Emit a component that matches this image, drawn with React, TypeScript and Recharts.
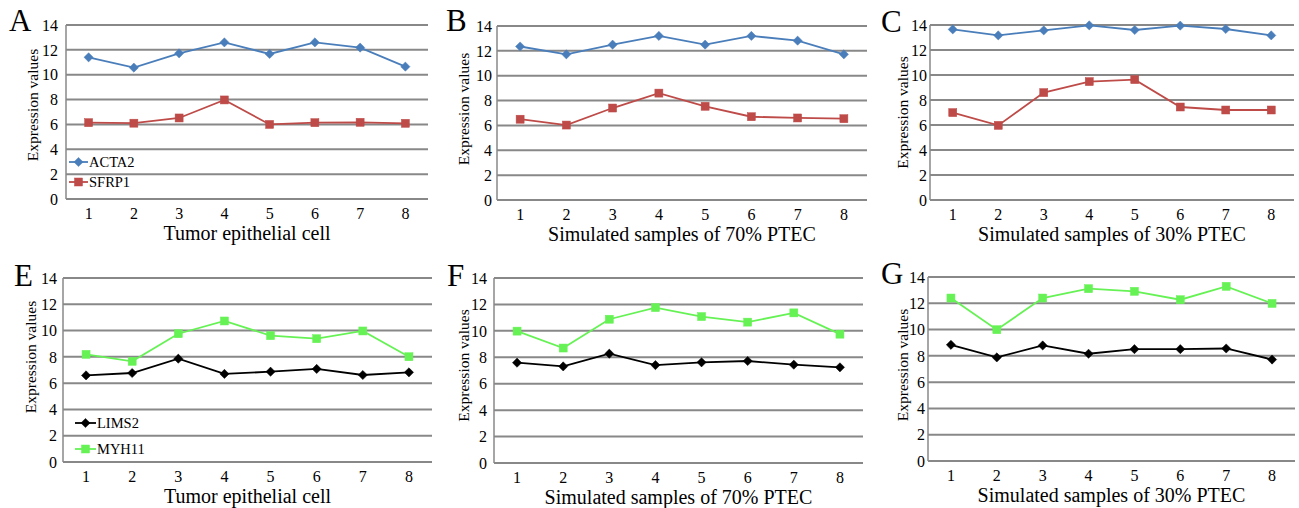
import React from 'react';
import { LineChart, Line, XAxis, YAxis, CartesianGrid, Legend } from 'recharts';

const samples = ['1', '2', '3', '4', '5', '6', '7', '8'];
const yTicks = [0, 2, 4, 6, 8, 10, 12, 14];

const acta2Tumor = [11.4, 10.57, 11.72, 12.6, 11.67, 12.6, 12.18, 10.65];
const sfrp1Tumor = [6.14, 6.1, 6.52, 7.97, 6.0, 6.14, 6.17, 6.09];
const acta2Sim70 = [12.35, 11.72, 12.5, 13.2, 12.5, 13.2, 12.82, 11.72];
const sfrp1Sim70 = [6.5, 6.03, 7.4, 8.6, 7.54, 6.7, 6.6, 6.54];
const acta2Sim30 = [13.65, 13.17, 13.57, 13.97, 13.6, 13.95, 13.68, 13.17];
const sfrp1Sim30 = [6.99, 5.97, 8.59, 9.47, 9.63, 7.44, 7.2, 7.2];
const lims2Tumor = [6.59, 6.77, 7.86, 6.7, 6.87, 7.08, 6.62, 6.82];
const myh11Tumor = [8.19, 7.66, 9.76, 10.73, 9.61, 9.38, 9.97, 8.01];
const lims2Sim70 = [7.59, 7.31, 8.27, 7.41, 7.62, 7.72, 7.44, 7.24];
const myh11Sim70 = [9.98, 8.7, 10.88, 11.76, 11.08, 10.66, 11.36, 9.75];
const lims2Sim30 = [8.84, 7.88, 8.79, 8.16, 8.51, 8.51, 8.56, 7.72];
const myh11Sim30 = [12.4, 9.99, 12.4, 13.11, 12.91, 12.27, 13.29, 11.99];

const xTitleTumor = 'Tumor epithelial cell';
const xTitle70 = 'Simulated samples of 70% PTEC';
const xTitle30 = 'Simulated samples of 30% PTEC';
const yTitle = 'Expression values';

const BLUE = '#4a7ebb';
const RED = '#be4b48';
const BLACK = '#000000';
const GREEN = '#66f255';
const GRID = '#888888';
const FONT = '"Liberation Serif", "Times New Roman", Times, serif';

type Shape = 'diamond' | 'square';
type Series = { name: string; values: number[]; color: string; shape: Shape };

function Marker({ cx, cy, color, shape }: { cx: number; cy: number; color: string; shape: Shape }) {
  if (shape === 'diamond') {
    const r = 4.6;
    return <polygon points={`${cx},${cy - r} ${cx + r},${cy} ${cx},${cy + r} ${cx - r},${cy}`} fill={color} stroke={color} strokeWidth={0.5} />;
  }
  const s = 8;
  return <rect x={cx - s / 2} y={cy - s / 2} width={s} height={s} fill={color} stroke={color} strokeWidth={0.5} />;
}

type PanelProps = {
  letter: string;
  letterX: number;
  letterBase: number;
  x0: number;
  x1: number;
  y0: number;
  y1: number;
  xTitle: string;
  yTitleOffset: number;
  yTitleDy: number;
  yTickGap: number;
  series: Series[];
  legendPos?: { left: number; top: number; row: number; lineW: number };
};

const LP = 62;
const TP = 20;
const RP = 4;
const BP = 50;

const tickStyle = { fill: '#000', fontSize: 16, fontFamily: FONT, style: { fontFamily: FONT } };

function Panel(p: PanelProps) {
  const width = p.x1 - p.x0 + LP + RP;
  const height = p.y1 - p.y0 + TP + BP;
  const data = samples.map((s, i) => {
    const row: Record<string, string | number> = { sample: s };
    p.series.forEach((se) => {
      row[se.name] = se.values[i];
    });
    return row;
  });
  const lp = p.legendPos;
  const legendContent = () => (
    <div style={{ fontFamily: FONT, fontSize: 14.5, color: '#000' }}>
      {p.series.map((se) => (
        <div key={se.name} style={{ display: 'flex', alignItems: 'center', height: lp ? lp.row : 20 }}>
          <svg width={lp ? lp.lineW : 20} height={12} style={{ marginRight: 1 }}>
            <line x1={0} y1={6} x2={lp ? lp.lineW : 20} y2={6} stroke={se.color} strokeWidth={1.8} />
            <Marker cx={(lp ? lp.lineW : 20) / 2} cy={6} color={se.color} shape={se.shape} />
          </svg>
          <span>{se.name}</span>
        </div>
      ))}
    </div>
  );
  return (
    <>
      <div
        style={{
          position: 'absolute',
          left: p.letterX,
          top: p.letterBase - 27,
          fontFamily: FONT,
          fontSize: 31,
          lineHeight: '31px',
          color: '#000',
        }}
      >
        {p.letter}
      </div>
      <div style={{ position: 'absolute', left: p.x0 - LP, top: p.y0 - TP, width, height, fontFamily: FONT }}>
        <LineChart
          width={width}
          height={height}
          data={data}
          margin={{ top: TP, right: RP, bottom: 0, left: 0 }}
          style={{ fontFamily: FONT }}
        >
          <CartesianGrid horizontal vertical={false} stroke={GRID} strokeWidth={2} />
          <XAxis
            dataKey="sample"
            scale="band"
            height={BP}
            tickLine={false}
            tickSize={0}
            tickMargin={9}
            axisLine={{ stroke: GRID, strokeWidth: 2 }}
            tick={tickStyle}
            label={(props: any) => {
              const vb = props.viewBox || {};
              return (
                <text
                  x={vb.x + vb.width / 2}
                  y={vb.y + 41}
                  textAnchor="middle"
                  fontFamily={FONT}
                  style={{ fontFamily: FONT }}
                  fontSize={20}
                  fill="#000"
                >
                  {p.xTitle}
                </text>
              );
            }}
          />
          <YAxis
            width={LP}
            domain={[0, 14]}
            ticks={yTicks}
            interval={0}
            tickLine={false}
            tickSize={0}
            tickMargin={p.yTickGap}
            axisLine={{ stroke: GRID, strokeWidth: 1.5 }}
            tick={tickStyle}
            label={(props: any) => {
              const vb = props.viewBox || {};
              const cx = vb.x + vb.width - p.yTitleOffset;
              const cy = vb.y + vb.height / 2 + p.yTitleDy;
              return (
                <text
                  x={cx}
                  y={cy}
                  transform={`rotate(-90, ${cx}, ${cy})`}
                  textAnchor="middle"
                  dominantBaseline="central"
                  fontFamily={FONT}
                  style={{ fontFamily: FONT }}
                  fontSize={15.5}
                  fill="#000"
                >
                  {yTitle}
                </text>
              );
            }}
          />
          {p.series.map((se) => (
            <Line
              key={se.name}
              type="linear"
              dataKey={se.name}
              stroke={se.color}
              strokeWidth={1.8}
              isAnimationActive={false}
              dot={(d: any) => (
                <Marker key={`${se.name}-${d.index}`} cx={d.cx} cy={d.cy} color={se.color} shape={se.shape} />
              )}
              activeDot={false}
            />
          ))}
          {lp && (
            <Legend
              layout="vertical"
              align="center"
              verticalAlign="middle"
              content={legendContent}
              wrapperStyle={{ position: 'absolute', left: lp.left, top: lp.top, width: 90, height: lp.row * 2 }}
            />
          )}
        </LineChart>
      </div>
    </>
  );
}

const topSeries = (a: number[], s: number[]): Series[] => [
  { name: 'ACTA2', values: a, color: BLUE, shape: 'diamond' },
  { name: 'SFRP1', values: s, color: RED, shape: 'square' },
];
const bottomSeries = (l: number[], m: number[]): Series[] => [
  { name: 'LIMS2', values: l, color: BLACK, shape: 'diamond' },
  { name: 'MYH11', values: m, color: GREEN, shape: 'square' },
];

export default function App() {
  return (
    <div style={{ position: 'absolute', left: 0, top: 0, width: 1299, height: 508, background: '#fff', overflow: 'hidden', fontFamily: FONT }}>
      <Panel
        letter="A" letterX={9} letterBase={32}
        x0={66} x1={428} y0={25} y1={199}
        xTitle={xTitleTumor} yTitleOffset={34} yTitleDy={-7} yTickGap={8}
        series={topSeries(acta2Tumor, sfrp1Tumor)}
        legendPos={{ left: 65, top: 147, row: 20, lineW: 19 }}
      />
      <Panel
        letter="B" letterX={446} letterBase={32}
        x0={497} x1={867} y0={26} y1={200}
        xTitle={xTitle70} yTitleOffset={34} yTitleDy={-4} yTickGap={5}
        series={topSeries(acta2Sim70, sfrp1Sim70)}
      />
      <Panel
        letter="C" letterX={881} letterBase={33}
        x0={930} x1={1294} y0={25} y1={200}
        xTitle={xTitle30} yTitleOffset={28} yTitleDy={0} yTickGap={3}
        series={topSeries(acta2Sim30, sfrp1Sim30)}
      />
      <Panel
        letter="E" letterX={14} letterBase={287}
        x0={63} x1={432} y0={278} y1={462}
        xTitle={xTitleTumor} yTitleOffset={33} yTitleDy={-13} yTickGap={6}
        series={bottomSeries(lims2Tumor, myh11Tumor)}
        legendPos={{ left: 74, top: 152, row: 26, lineW: 21 }}
      />
      <Panel
        letter="F" letterX={447} letterBase={287}
        x0={494} x1={863} y0={278} y1={463}
        xTitle={xTitle70} yTitleOffset={31} yTitleDy={-5} yTickGap={7}
        series={bottomSeries(lims2Sim70, myh11Sim70)}
      />
      <Panel
        letter="G" letterX={881} letterBase={285}
        x0={928} x1={1295} y0={277} y1={461}
        xTitle={xTitle30} yTitleOffset={26} yTitleDy={-4} yTickGap={3}
        series={bottomSeries(lims2Sim30, myh11Sim30)}
      />
    </div>
  );
}
